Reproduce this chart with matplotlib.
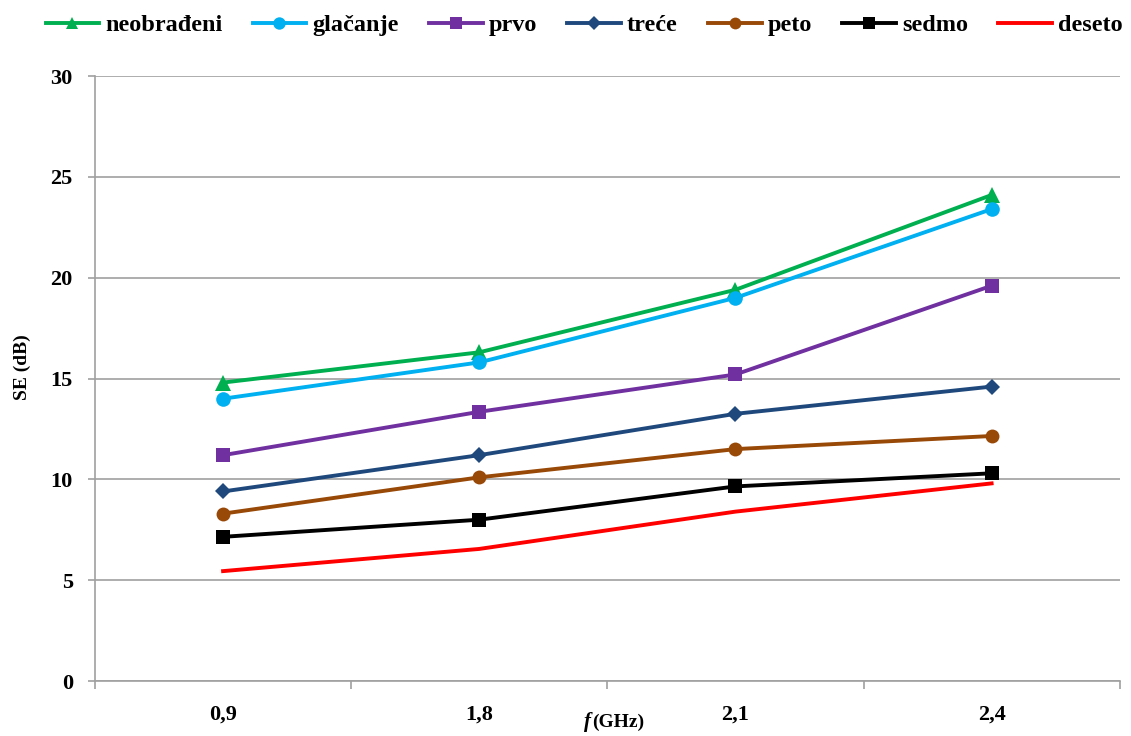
import matplotlib
matplotlib.use("Agg")
import matplotlib.pyplot as plt
import numpy as np

categories = ["0,9", "1,8", "2,1", "2,4"]
neobradjeni = [14.8, 16.3, 19.4, 24.1]
glacanje = [14.0, 15.8, 19.0, 23.4]
prvo = [11.2, 13.35, 15.2, 19.6]
trece = [9.4, 11.2, 13.25, 14.6]
peto = [8.3, 10.1, 11.5, 12.15]
sedmo = [7.15, 8.0, 9.65, 10.3]
deseto = [5.45, 6.55, 8.4, 9.8]

series = [
    ("neobrađeni", neobradjeni, "#00B050", "^", 11),
    ("glačanje", glacanje, "#00B0F0", "o", 10.5),
    ("prvo", prvo, "#7030A0", "s", 10),
    ("treće", trece, "#1F497D", "D", 8.5),
    ("peto", peto, "#984807", "o", 10),
    ("sedmo", sedmo, "#000000", "s", 10),
    ("deseto", deseto, "#FF0000", None, 0),
]

plt.rcParams['font.family'] = ['Liberation Serif', 'DejaVu Serif']

fig = plt.figure(figsize=(11.31, 7.36), dpi=100)
ax = fig.add_axes([0.084, 0.0747, 0.906, 0.822])

x = np.arange(len(categories))
for name, vals, col, mk, ms in series:
    ax.plot(x, vals, color=col, lw=2.8, marker=mk, markersize=ms, label=name,
            markeredgewidth=0)

ax.set_xlim(-0.5, len(categories) - 0.5)
ax.set_ylim(0, 30)
ax.set_yticks(np.arange(0, 31, 5))
ax.yaxis.grid(True, color="#A0A0A0", lw=1.2)
ax.set_axisbelow(True)

ax.set_xticks(x)
ax.set_xticklabels(categories, fontsize=16, fontweight="bold")
ax.set_xticks(np.arange(-0.5, len(categories)), minor=True)
ax.tick_params(axis="x", which="major", length=0, pad=17)
ax.tick_params(axis="x", which="minor", length=6, color="#A0A0A0", width=1.2, direction="out")
ax.tick_params(axis="y", length=5, color="#A0A0A0", width=1.2, labelsize=16, pad=11)
for lbl in ax.get_yticklabels():
    lbl.set_fontweight("bold")

for s in ["top", "right"]:
    ax.spines[s].set_visible(False)
for s in ["left", "bottom"]:
    ax.spines[s].set_color("#A0A0A0")
    ax.spines[s].set_linewidth(1.2)

fig.text(22 / 1131, 1 - 367 / 736, "SE (dB)", rotation=90, fontsize=14,
         fontweight="bold", ha="center", va="center")
fig.text(591 / 1131, 1 - 722 / 736, "f", fontsize=15, fontstyle="italic",
         fontweight="bold", ha="right", va="center")
fig.text(592 / 1131, 1 - 722 / 736, "(GHz)", fontsize=14, fontweight="bold",
         ha="left", va="center")

fig.legend(loc="center", bbox_to_anchor=(584 / 1131, 1 - 25 / 736), ncol=7, frameon=False,
           prop={"size": 17.5, "weight": "bold"}, handlelength=2.2, handletextpad=0.25,
           columnspacing=1.25, markerscale=0.85, borderaxespad=0, borderpad=0)

fig.savefig("out.png", dpi=100)
